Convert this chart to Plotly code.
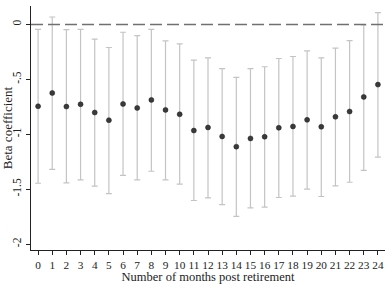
import plotly.graph_objects as go

months = list(range(25))
beta = [-0.745, -0.624, -0.748, -0.727, -0.802, -0.872, -0.724, -0.760, -0.687, -0.778,
        -0.818, -0.966, -0.938, -1.020, -1.113, -1.038, -1.023, -0.941, -0.929, -0.869,
        -0.932, -0.841, -0.793, -0.660, -0.548]
upper = [-0.044, 0.068, -0.047, -0.044, -0.134, -0.210, -0.071, -0.101, -0.044, -0.150,
         -0.177, -0.325, -0.304, -0.403, -0.482, -0.403, -0.385, -0.310, -0.292, -0.240,
         -0.304, -0.216, -0.147, -0.005, 0.107]
lower = [-1.446, -1.320, -1.443, -1.416, -1.473, -1.540, -1.374, -1.416, -1.337, -1.416,
         -1.455, -1.603, -1.579, -1.640, -1.748, -1.670, -1.664, -1.576, -1.564, -1.500,
         -1.567, -1.470, -1.437, -1.328, -1.208]
ytick_vals = [0, -0.5, -1, -1.5, -2]
ytick_text = ["0", "-.5", "-1", "-1.5", "-2"]

err_plus = [u - b for u, b in zip(upper, beta)]
err_minus = [b - l for b, l in zip(beta, lower)]

font = "Liberation Serif, Times New Roman, serif"

fig = go.Figure()
fig.add_trace(go.Scatter(
    x=months, y=beta, mode="markers",
    marker=dict(color="#3a3a3a", size=5, line=dict(color="#1a1a1a", width=0.5)),
    error_y=dict(type="data", symmetric=False, array=err_plus, arrayminus=err_minus,
                 color="#c4c4c4", thickness=1.2, width=3),
    showlegend=False,
))
fig.add_shape(type="line", xref="paper", x0=0, x1=1, yref="y", y0=0, y1=0,
              line=dict(color="#707070", width=1.5, dash="12px,5px"))

fig.update_layout(
    width=385, height=284,
    margin=dict(l=29, r=0, t=6, b=33),
    paper_bgcolor="white", plot_bgcolor="white",
    font=dict(family=font, color="#222222", size=11.5),
    xaxis=dict(range=[-0.5, 24.5], tickmode="array", tickvals=months,
               ticktext=[str(m) for m in months], showgrid=False, zeroline=False,
               showline=True, linecolor="#222222", linewidth=1,
               ticks="outside", ticklen=4, tickcolor="#222222",
               tickfont=dict(size=11.3),
               title=dict(text="Number of months post retirement", standoff=5,
                          font=dict(size=12.5))),
    yaxis=dict(range=[-2.054, 0.168], tickmode="array", tickvals=ytick_vals,
               ticktext=ytick_text, tickangle=-90, showgrid=False, zeroline=False,
               showline=True, linecolor="#222222", linewidth=1,
               ticks="outside", ticklen=4, tickcolor="#222222",
               title=dict(text="Beta coefficient", standoff=2, font=dict(size=13))),
)

fig.write_html("out.html")
